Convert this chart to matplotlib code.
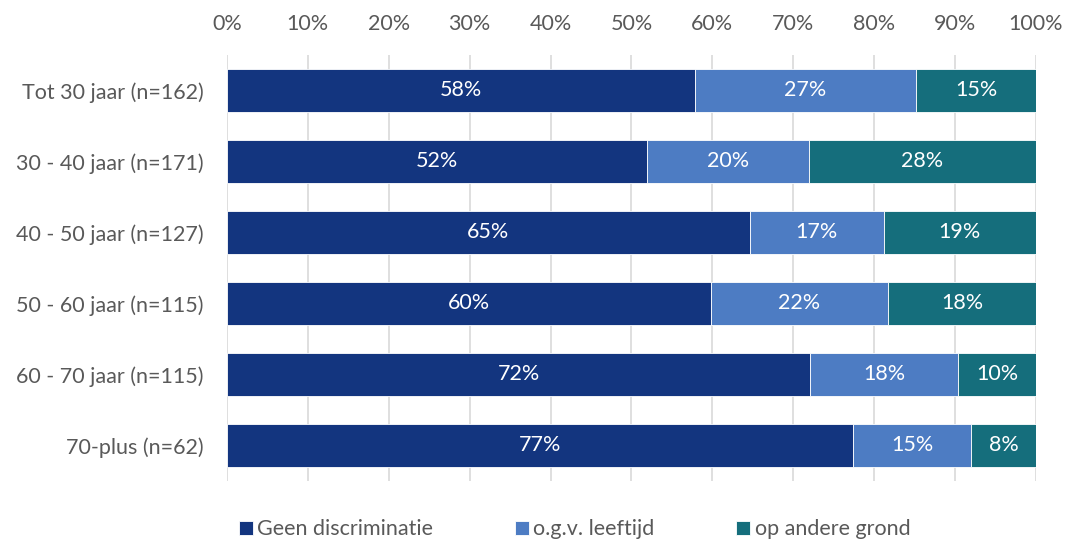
import matplotlib
matplotlib.use('Agg')
import matplotlib.pyplot as plt
import numpy as np

# data
groepen = ['Tot 30 jaar (n=162)', '30 - 40 jaar (n=171)', '40 - 50 jaar (n=127)',
           '50 - 60 jaar (n=115)', '60 - 70 jaar (n=115)', '70-plus (n=62)']
geen = [57.8, 51.9, 64.6, 59.8, 72.1, 77.4]
leeftijd = [27.4, 20.0, 16.6, 21.9, 18.3, 14.6]
andere = [14.8, 28.1, 18.8, 18.3, 9.6, 8.0]
reeksen = ['Geen discriminatie', 'o.g.v. leeftijd', 'op andere grond']
kleuren = ['#13357F', '#4D7CC3', '#156E7C']

plt.rcParams['font.family'] = ['Lato', 'DejaVu Sans']
grijs = '#595959'
fs = 15.5

fig = plt.figure(figsize=(10.68, 5.44), dpi=100)
ax = fig.add_axes([0.2125, 0.116, 0.7575, 0.783])

y = np.arange(len(groepen))
links = np.zeros(len(groepen))
for naam, waarden, kleur in zip(reeksen, [geen, leeftijd, andere], kleuren):
    bars = ax.barh(y, waarden, left=links, height=0.6, color=kleur, label=naam,
                   edgecolor='white', linewidth=0.6, zorder=3)
    for b, v in zip(bars, waarden):
        ax.text(b.get_x() + b.get_width() / 2, b.get_y() + b.get_height() / 2,
                f'{round(v):.0f}%', ha='center', va='center', color='white',
                fontsize=fs, zorder=4)
    links += np.array(waarden)

ax.set_xlim(0, 100)
ax.set_ylim(len(groepen) - 0.5, -0.5)
ax.set_yticks(y)
ax.set_yticklabels(groepen)
ax.set_xticks(np.arange(0, 101, 10))
ax.set_xticklabels([f'{v}%' for v in range(0, 101, 10)])
ax.xaxis.tick_top()
ax.tick_params(axis='both', length=0, labelsize=fs, labelcolor=grijs)
ax.tick_params(axis='x', pad=15)
ax.tick_params(axis='y', pad=17)
ax.grid(axis='x', color='#D9D9D9', linewidth=1.2, zorder=0)
for s in ax.spines.values():
    s.set_visible(False)

fig.legend(loc='lower center', bbox_to_anchor=(0.538, -0.027), ncol=3, frameon=False,
           fontsize=fs, handlelength=0.65, handleheight=0.65, handletextpad=0.2,
           columnspacing=3.8, labelcolor=grijs)

fig.savefig('out.png', dpi=100)
